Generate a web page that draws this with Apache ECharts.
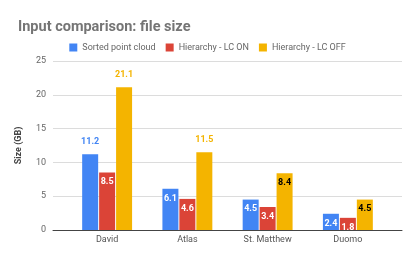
<!DOCTYPE html>
<html><head><meta charset="utf-8">
<script src="https://cdn.jsdelivr.net/npm/echarts@6/dist/echarts.min.js"></script>
<style>html,body{margin:0;padding:0;background:#fff}#c{width:415px;height:257px}</style>
</head><body><div id="c"></div>
<script>
const categories = ['David', 'Atlas', 'St. Matthew', 'Duomo'];
const sortedPointCloud = [11.2, 6.1, 4.5, 2.4];
const hierarchyLcOn = [8.5, 4.6, 3.4, 1.8];
const hierarchyLcOff = [21.1, 11.5, 8.4, 4.5];
const yTicks = [0, 5, 10, 15, 20, 25];

const seriesDefs = [
  {name: 'Sorted point cloud', data: sortedPointCloud, color: '#4285F4', inside: '#ffffff', outsideIdx: [0]},
  {name: 'Hierarchy - LC ON', data: hierarchyLcOn, color: '#DB4437', inside: '#ffffff', outsideIdx: []},
  {name: 'Hierarchy - LC OFF', data: hierarchyLcOff, color: '#F4B400', inside: '#000000', outsideIdx: [0, 1]}
];
const font = 'Roboto, Arial, sans-serif';
const chart = echarts.init(document.getElementById('c'), null, {renderer: 'canvas'});
chart.setOption({
  animation: false,
  title: {text: 'Input comparison: file size', left: 13, top: 15,
    textStyle: {fontFamily: font, fontSize: 14.5, fontWeight: 'bold', color: '#757575'}},
  legend: {top: 38, left: 'center', itemWidth: 8, itemHeight: 8, itemGap: 10, icon: 'rect',
    textStyle: {fontFamily: font, fontSize: 9, color: '#666'},
    data: seriesDefs.map(s => s.name)},
  grid: [
    {left: 53, right: 13, top: 61, bottom: 27},
    {left: 67, right: 27, top: 61, bottom: 27}
  ],
  xAxis: [
    {gridIndex: 0, type: 'category', data: categories, axisLabel: {show: false}, axisTick: {show: false},
      axisLine: {lineStyle: {color: '#444', width: 1}}},
    {gridIndex: 1, type: 'category', data: categories, axisTick: {show: false}, axisLine: {show: false},
      axisLabel: {fontFamily: font, fontSize: 9, color: '#555', margin: 5}}
  ],
  yAxis: [
    {gridIndex: 0, type: 'value', min: yTicks[0], max: yTicks[yTicks.length - 1], interval: 5,
      name: 'Size (GB)', nameLocation: 'middle', nameGap: 30, nameRotate: 90,
      nameTextStyle: {fontFamily: font, fontSize: 9, fontWeight: 'bold', color: '#444'},
      axisLabel: {fontFamily: font, fontSize: 9, color: '#666', margin: 7},
      axisLine: {show: false}, axisTick: {show: false},
      splitLine: {lineStyle: {color: '#dcdcdc'}}},
    {gridIndex: 1, type: 'value', min: yTicks[0], max: yTicks[yTicks.length - 1], interval: 5, show: false,
      splitLine: {show: false}}
  ],
  series: seriesDefs.map(s => ({
    name: s.name, type: 'bar', xAxisIndex: 1, yAxisIndex: 1,
    barWidth: 16, barGap: '6%',
    itemStyle: {color: s.color},
    data: s.data.map((v, i) => {
      const out = s.outsideIdx.includes(i);
      return {value: v, label: out
        ? {position: 'top', distance: 8, color: s.color}
        : {position: 'insideTop', distance: 5, color: s.inside}};
    }),
    label: {show: true, fontFamily: font, fontSize: 9, fontWeight: 'bold'}
  }))
});
</script></body></html>
